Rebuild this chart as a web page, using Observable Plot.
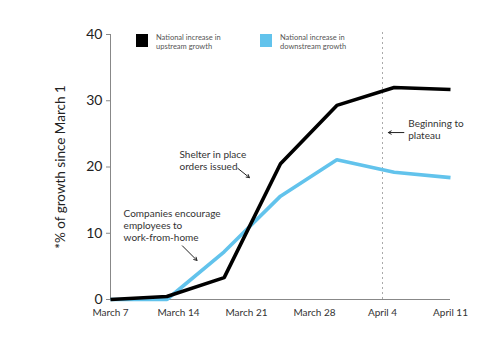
<!DOCTYPE html>
<html>
<head>
<meta charset="utf-8">
<script src="https://cdn.jsdelivr.net/npm/d3@7"></script>
<script src="https://cdn.jsdelivr.net/npm/@observablehq/plot@0.6"></script>
<style>
  html, body { margin: 0; padding: 0; background: #fff; }
  #wrap { position: relative; width: 500px; height: 354px; font-family: Lato, "Noto Sans", sans-serif; }
  .leg { position: absolute; top: 34px; display: flex; align-items: flex-start; font-size: 7.5px; line-height: 8.5px; color: #555; }
  .sw { width: 12px; height: 13px; margin-right: 8px; }
</style>
</head>
<body>
<div id="wrap"></div>
<script>
// Days since March 7 for each data point
const days = [0, 5.8, 11.7, 17.5, 23.3, 29.2, 35];
const upstream = [0, 0.45, 3.3, 20.5, 29.3, 32.0, 31.7];
const downstream = [0, 0, 7.2, 15.6, 21.1, 19.2, 18.4];
const seriesNames = ["National increase in upstream growth", "National increase in downstream growth"];
const seriesColors = ["#000000", "#62c3ec"];
const tickDays = [0, 7, 14, 21, 28, 35];
const tickLabels = ["March 7", "March 14", "March 21", "March 28", "April 4", "April 11"];
const plateauDay = 28;

const data = [];
days.forEach((d, i) => {
  data.push({day: d, value: downstream[i], series: seriesNames[1]});
});
days.forEach((d, i) => {
  data.push({day: d, value: upstream[i], series: seriesNames[0]});
});

const notes = [
  {day: 7.1, value: 22.6, text: "Shelter in place\norders issued"},
  {day: 1.35, value: 13.8, text: "Companies encourage\nemployees to\nwork-from-home"},
  {day: 30.65, value: 27.3, text: "Beginning to\nplateau"}
];
const arrows = [
  {x1: 13.1, y1: 19.8, x2: 14.3, y2: 18.4},
  {x1: 7.4, y1: 8.1, x2: 8.9, y2: 5.9},
  {x1: 30.2, y1: 25.2, x2: 28.6, y2: 25.2}
];

const chart = Plot.plot({
  width: 500,
  height: 354,
  marginLeft: 110,
  marginRight: 50,
  marginTop: 34,
  marginBottom: 55,
  style: {fontFamily: "Lato, 'Noto Sans', sans-serif", background: "#fff"},
  x: {domain: [0, 35]},
  y: {domain: [0, 40]},
  color: {domain: seriesNames, range: seriesColors},
  marks: [
    Plot.ruleX([plateauDay], {y1: 0, y2: 40.6, stroke: "#aaa", strokeWidth: 1, strokeDasharray: "2,3"}),
    Plot.ruleY([0], {x1: 0, x2: 35, stroke: "#888", strokeWidth: 1}),
    Plot.ruleX([0], {y1: 0, y2: 40, stroke: "#888", strokeWidth: 1}),
    Plot.axisY({ticks: [0, 10, 20, 30, 40], tickSize: 4, tickPadding: 4, fontSize: 14, stroke: "#888", color: "#222", label: null}),
    Plot.axisY({ticks: [], fontSize: 13.5, color: "#222",
      label: "*% of growth since March 1", labelAnchor: "center", labelArrow: "none", labelOffset: 55}),
    Plot.axisX({ticks: tickDays, tickFormat: (d) => tickLabels[tickDays.indexOf(d)], tickSize: 0, tickPadding: 9, fontSize: 10, color: "#333", label: null}),
    Plot.line(data, {x: "day", y: "value", z: "series", stroke: "series", strokeWidth: 3.6, strokeLinejoin: "miter", strokeLinecap: "butt"}),
    Plot.text(notes, {x: "day", y: "value", text: "text", textAnchor: "start", lineAnchor: "top", fontSize: 10, lineHeight: 1.2, fill: "#333"}),
    Plot.arrow(arrows, {x1: "x1", y1: "y1", x2: "x2", y2: "y2", stroke: "#222", strokeWidth: 1, headLength: 5})
  ]
});
const wrap = document.getElementById("wrap");
wrap.appendChild(chart);
const legX = [136, 260];
seriesNames.forEach((name, i) => {
  const el = document.createElement("div");
  el.className = "leg";
  el.style.left = legX[i] + "px";
  const words = name.split(" ");
  el.innerHTML = `<div class="sw" style="background:${seriesColors[i]}"></div><div>${words.slice(0,3).join(" ")}<br>${words.slice(3).join(" ")}</div>`;
  wrap.appendChild(el);
});
</script>
</body>
</html>
